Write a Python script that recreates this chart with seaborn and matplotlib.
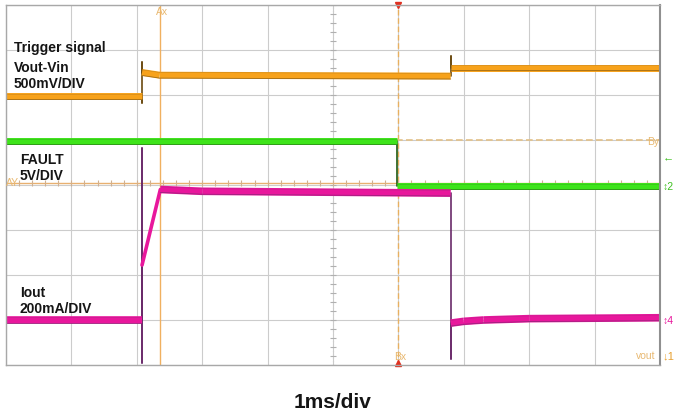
import numpy as np
import pandas as pd
import seaborn as sns
import matplotlib.pyplot as plt

# Scope traces: time in divisions (1ms/div), level in divisions from bottom of screen
vout_t = [0, 2.08, 2.08, 2.08, 2.08, 2.35, 6.80, 6.80, 6.80, 6.80, 10]
vout_v = [5.97, 5.97, 5.82, 6.74, 6.50, 6.44, 6.42, 6.42, 6.87, 6.61, 6.61]

fault_t = [0, 5.98, 5.98, 10]
fault_v = [4.97, 4.97, 3.97, 3.97]

iout_t = [0, 2.08, 2.08, 2.08, 2.08, 2.36, 3.0, 6.80, 6.80, 6.80, 7.0, 7.3, 8.0, 10]
iout_v = [1.00, 1.00, 4.82, 0.04, 2.22, 3.90, 3.86, 3.82, 0.13, 0.93, 0.97, 1.00, 1.03, 1.05]

# cursors
ax_t, bx_t = 2.355, 5.995
ay_v, by_v = 4.04, 5.00

sns.set_style("white")
plt.rcParams['font.family'] = ['Liberation Sans', 'DejaVu Sans']

fig = plt.figure(figsize=(6.75, 4.17), dpi=100)
ax = fig.add_axes([6 / 675, 52 / 417, 654 / 675, 360 / 417])


def segments(t, v):
    # split a trace into flat parts, ramps and vertical edges
    rows = []
    seg = 0
    for i in range(len(t) - 1):
        dt = t[i + 1] - t[i]
        if dt == 0:
            kind = 'edge'
        elif abs(v[i + 1] - v[i]) / dt > 3:
            kind = 'ramp'
        else:
            kind = 'flat'
        rows.append((t[i], v[i], seg, kind))
        rows.append((t[i + 1], v[i + 1], seg, kind))
        seg += 1
    return pd.DataFrame(rows, columns=['t', 'v', 'seg', 'kind'])


def draw(t, v, color, dark, lw=5.0):
    df = segments(t, v)
    flat = df[df['kind'] == 'flat']
    ramp = df[df['kind'] == 'ramp']
    fast = df[df['kind'] == 'edge']
    sns.lineplot(data=fast, x='t', y='v', units='seg', estimator=None, sort=False,
                 color=dark, lw=1.2, ax=ax)
    if len(ramp):
        sns.lineplot(data=ramp, x='t', y='v', units='seg', estimator=None, sort=False,
                     color=color, lw=2.6, ax=ax)
    sns.lineplot(data=flat, x='t', y='v', units='seg', estimator=None, sort=False,
                 color=color, lw=lw, ax=ax, solid_capstyle='butt')
    lo = flat.assign(v=flat['v'] - 0.065)
    sns.lineplot(data=lo, x='t', y='v', units='seg', estimator=None, sort=False,
                 color=dark, lw=0.6, alpha=0.6, ax=ax)
    hi = flat.assign(v=flat['v'] + 0.06)
    sns.lineplot(data=hi, x='t', y='v', units='seg', estimator=None, sort=False,
                 color=dark, lw=0.4, alpha=0.3, ax=ax)


# cursors and centre scale
ax.axvline(ax_t, color='#f0b060', lw=1.0, zorder=1)
ax.axvline(bx_t, color='#e8b060', lw=1.0, ls=(0, (4, 2)), zorder=1)
ax.axhline(ay_v, color='#e8b070', lw=1.0, zorder=1)
ax.axhline(by_v, color='#e2c088', lw=1.2, ls=(0, (4, 2)), zorder=1)
ax.axvline(5, color='#c8c8c8', lw=0.8, ls=(0, (1, 2)), zorder=0)
ticks_x = np.arange(0, 10.01, 0.2)
ticks_y = np.arange(0, 8.01, 0.2)
ax.plot(np.full_like(ticks_y, 5), ticks_y, ls='none', marker='_', ms=4, color='#b0b0b0', mew=0.8)
ax.plot(ticks_x, np.full_like(ticks_x, ay_v), ls='none', marker='|', ms=4, color='#d0b090', mew=0.8)

draw(vout_t, vout_v, '#f7a21b', '#6b4a10')
draw(fault_t, fault_v, '#3ee41a', '#1f5a10')
draw(iout_t, iout_v, '#e8179c', '#6a2a6a', lw=5.5)

ax.plot([bx_t], [8], marker='v', ms=4, color='#e03020', clip_on=False)
ax.plot([bx_t], [0.05], marker='^', ms=4, color='#e03020', clip_on=False)

ax.set_xlim(0, 10)
ax.set_ylim(0, 8)
ax.set_xticks(range(11))
ax.set_yticks(range(9))
ax.grid(True, color='#cccccc', lw=0.8)
ax.tick_params(length=0, labelbottom=False, labelleft=False)
ax.set_xlabel('')
ax.set_ylabel('')
for s in ax.spines.values():
    s.set_color('#a8a8a8')
    s.set_linewidth(1.0)
ax.spines['right'].set_color('#909090')
ax.spines['right'].set_linewidth(1.5)


def ftext(x, y, s, **kw):
    fig.text(x / 675, 1 - y / 417, s, **kw)


lab = dict(fontsize=10, fontweight='bold', color='#151515', va='center', ha='left')
ftext(14, 48, 'Trigger signal', **lab)
ftext(14, 68, 'Vout-Vin', **lab)
ftext(14, 84, '500mV/DIV', **lab)
ftext(20, 160, 'FAULT', **lab)
ftext(20, 176, '5V/DIV', **lab)
ftext(20, 293, 'Iout', **lab)
ftext(20, 309, '200mA/DIV', **lab)
ftext(333, 402, '1ms/div', fontsize=15, fontweight='bold', color='#151515', ha='center', va='center')

cur = dict(fontsize=7.5, color='#e8b870', va='center', ha='left')
ftext(156, 12, 'Ax', **cur)
ftext(6, 183, 'AY', **cur)
ftext(394, 357, 'Bx', **cur)
ftext(647, 142, 'By', **cur)
ftext(636, 356, 'vout', **cur)

ftext(663, 157, '←', fontsize=8, color='#3ec020', va='center')
ftext(663, 187, '↕2', fontsize=7.5, color='#3ec020', va='center')
ftext(663, 321, '↕4', fontsize=7.5, color='#e8179c', va='center')
ftext(663, 356, '↓1', fontsize=8, color='#e8a030', va='center')

fig.savefig('out.png', dpi=100)
